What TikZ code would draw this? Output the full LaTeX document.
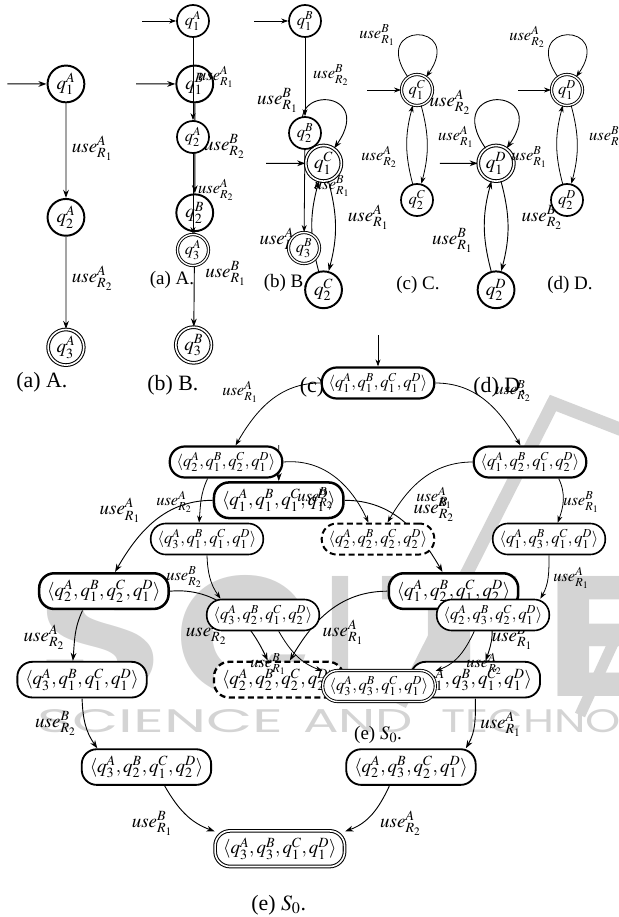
\documentclass[tikz,border=0pt]{standalone}
\usepackage{mathptmx}
\usepackage{fontspec}
\usepackage{graphicx}
\setmainfont{Liberation Serif}
\newfontfamily\wmfont{Poppins}
\usetikzlibrary{arrows.meta}
\definecolor{wm}{gray}{0.83}
\newcommand{\qq}[2]{q^{#1}_{#2}}
\newcommand{\us}[2]{\mathit{use}^{#1}_{R_{#2}}}
\newcommand{\stt}[4]{$\langle \qq{A}{#1},\qq{B}{#2},\qq{C}{#3},\qq{D}{#4}\rangle$}
\def\lwf{1}
\newcommand{\wholefig}[1]{%
 % ---- automaton A
 \node[stnode] (#1A1) at (193,-21) {$\qq A1$};
 \node[stnode] (#1A2) at (193,-137) {$\qq A2$};
 \node[accnode] (#1A3) at (193,-250) {$\qq A3$};
 \coordinate (#1iA) at (142,-21);
 \draw[edg] (#1iA) -- (#1A1);
 \draw[edg] (#1A1) -- (#1A2);
 \draw[edg] (#1A2) -- (#1A3);
 \node[labl,anchor=west] (#1la1) at (197,-77) {$\us A1$};
 \node[labl,anchor=west] (#1la2) at (197,-190) {$\us A2$};
 \node[captxt] (#1ca) at (172,-280) {(a) A.};
 % ---- automaton B
 \node[stnode] (#1B1) at (305,-21) {$\qq B1$};
 \node[stnode] (#1B2) at (305,-133) {$\qq B2$};
 \node[accnode] (#1B3) at (304,-248) {$\qq B3$};
 \coordinate (#1iB) at (254,-21);
 \draw[edg] (#1iB) -- (#1B1);
 \draw[edg] (#1B1) -- (#1B2);
 \draw[edg] (#1B2) -- (#1B3);
 \node[labl,anchor=west] (#1lb1) at (312,-75) {$\us B2$};
 \node[labl,anchor=west] (#1lb2) at (313,-186) {$\us B1$};
 \node[captxt] (#1cb) at (286,-283) {(b) B.};
 % ---- automaton C
 \node[accnode] (#1C1) at (417,-90) {$\qq C1$};
 \node[stnode] (#1C2) at (417,-200) {$\qq C2$};
 \coordinate (#1iC) at (367,-90);
 \draw[edg] (#1iC) -- (#1C1);
 \draw[edg] (#1C1.125) .. controls +(125:68) and +(55:68) .. (#1C1.55);
 \draw[edg] (#1C1) to[bend left=15] (#1C2);
 \draw[edg] (#1C2) to[bend left=15] (#1C1);
 \node[labl] (#1lc0) at (377,-35) {$\us B1$};
 \node[labl,anchor=west] (#1lc1) at (437,-137) {$\us A1$};
 \node[labl,anchor=east] (#1lc2) at (398,-157) {$\us A2$};
 \node[captxt] (#1cc) at (418,-285) {(c) C.};
 % ---- automaton D
 \node[accnode] (#1D1) at (567,-90) {$\qq D1$};
 \node[stnode] (#1D2) at (567,-200) {$\qq D2$};
 \coordinate (#1iD) at (518,-90);
 \draw[edg] (#1iD) -- (#1D1);
 \draw[edg] (#1D1.125) .. controls +(125:68) and +(55:68) .. (#1D1.55);
 \draw[edg] (#1D1) to[bend left=15] (#1D2);
 \draw[edg] (#1D2) to[bend left=15] (#1D1);
 \node[labl] (#1ld0) at (527,-37) {$\us A2$};
 \node[labl,anchor=west] (#1ld1) at (588,-137) {$\us B2$};
 \node[labl,anchor=east] (#1ld2) at (548,-157) {$\us B1$};
 \node[captxt] (#1cd) at (570,-285) {(d) D.};
 % ---- product S0
 \node[snt] (#1N0) at (378,-383) {\stt1111};
 \node[snt] (#1N1) at (226,-462) {\stt2121};
 \node[snt] (#1N2) at (530,-462) {\stt1212};
 \node[sn] (#1N4) at (207,-539) {\stt3111};
 \node[snd] (#1ND) at (378,-539) {\stt2222};
 \node[sn] (#1N5) at (549,-539) {\stt1311};
 \node[sn] (#1N8) at (263,-615) {\stt3212};
 \node[sn] (#1N9) at (493,-615) {\stt2321};
 \node[snf] (#1NF) at (379,-686) {\stt3311};
 \node[captxt] (#1ce) at (378,-735) {(e) $S_0$.};
 \coordinate (#1i0) at (378,-335);
 \draw[edg] (#1i0) -- (#1N0);
 \draw[edg] (#1N0.west) to[out=180,in=60] (#1N1.60);
 \draw[edg] (#1N0.east) to[out=0,in=120] (#1N2.120);
 \draw[edg] (#1N1.222) to[out=245,in=85] (#1N4.116);
 \draw[edg] (#1N1.east) to[out=5,in=115] (#1ND.120);
 \draw[edg] (#1N2.west) to[out=180,in=60] (#1ND.60);
 \draw[edg] (#1N2.330) to[out=295,in=70] (#1N5.62);
 \draw[edg] (#1N4.south) to[out=272,in=125] (#1N8.159);
 \draw[edg] (#1N5.south) to[out=270,in=60] (#1N9.19);
 \draw[edg] (#1N8.314) to[out=300,in=160] (#1NF.165);
 \draw[edg] (#1N9.221) to[out=245,in=20] (#1NF.15);
 \node[labl] (#1l01) at (240,-392) {$\us A1$};
 \node[labl] (#1l02) at (513,-391) {$\us B2$};
 \node[labl] (#1l14) at (174,-502) {$\us A2$};
 \node[labl] (#1l1D) at (315,-498) {$\us B2$};
 \node[labl] (#1l2D) at (434,-498) {$\us A1$};
 \node[labl] (#1l25) at (581,-502) {$\us B1$};
 \node[labl] (#1l48) at (184,-577) {$\us B2$};
 \node[labl] (#1l59) at (571,-578) {$\us A1$};
 \node[labl] (#1l8F) at (268,-664) {$\us B1$};
 \node[labl] (#1l9F) at (484,-664) {$\us A2$};
}
\begin{document}
\begin{tikzpicture}[x=1pt,y=1pt,
  every node/.style={font=\fontsize{16.5}{19}\selectfont},
  stnode/.style={circle,draw,line width={1.7pt*\lwf},minimum size=32pt,inner sep=0pt,fill=white},
  accnode/.style={circle,draw,double,line width={0.9pt*\lwf},double distance={1.4pt*\lwf},minimum size=31pt,inner sep=0pt,fill=white},
  edg/.style={-{Stealth[length=7pt,width=5pt,scale=\lwf]},line width={0.8pt*\lwf}},
  labl/.style={inner sep=1pt},
  captxt/.style={font=\fontsize{19}{22}\selectfont,inner sep=1pt},
  sn/.style={draw,fill=white,rounded corners=15pt,minimum height=31pt,inner xsep=7pt,line width={1.6pt*\lwf}},
  snt/.style={sn,line width={2.2pt*\lwf}},
  snd/.style={sn,dashed,line width={2pt*\lwf},dash pattern=on 6pt off 3.5pt},
  snf/.style={sn,double,line width={0.9pt*\lwf},double distance={1.4pt*\lwf}},
  wmbig/.style={inner sep=0pt,anchor=south west,text=wm,font=\wmfont\bfseries},
  wmrow/.style={inner sep=0pt,anchor=south west,text=wm,font=\wmfont}
]
\useasboundingbox (0,0) rectangle (618,-917);
% ---- background watermark
\draw[wm,line width=13pt] (400,-705) -- (553,-403) -- (630,-433);
\draw[wm,line width=11pt] (580,-715) -- (616,-637);
\node[wmbig] (wS) at (38,-697) {\resizebox{124pt}{120pt}{S}};
\node[wmbig] (wC) at (175,-697) {\resizebox{138pt}{120pt}{C}};
\node[wmbig] (wI) at (326,-697) {\resizebox{28pt}{120pt}{I}};
\node[wmbig] (wT) at (376,-697) {\resizebox{146pt}{120pt}{T}};
\node[wmbig] (wE) at (546,-697) {\resizebox{100pt}{120pt}{E}};
\node[wmrow] (wr1) at (37,-733) {\resizebox{246pt}{23pt}{SCIENCE}};
\node[wmrow] (wr2) at (303,-733) {\resizebox{110pt}{23pt}{AND}};
\node[wmrow] (wr3) at (441,-733) {\resizebox{295pt}{23pt}{TECHNOLOGY}};
% ---- the figure, drawn twice (offset copies)
\begin{scope}[shift={(-156,-59.8)},scale=1.15,transform shape]
\def\lwf{1.15}
\wholefig{b}
\end{scope}
\wholefig{s}
\end{tikzpicture}
\end{document}
